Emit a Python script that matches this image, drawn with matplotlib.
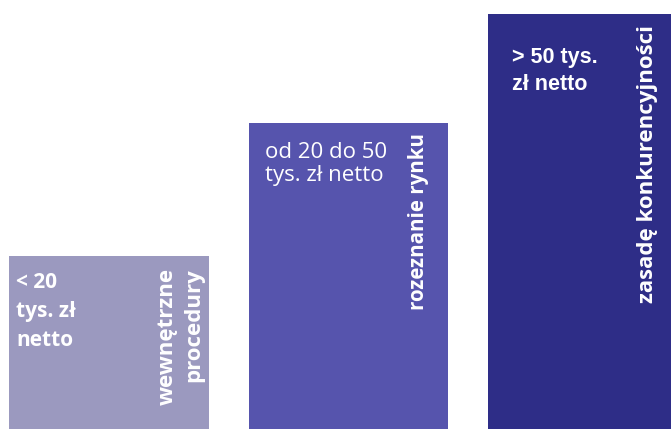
import matplotlib.pyplot as plt

# kategorie (progi wartości zamówienia) i wysokości słupków
labels = ['< 20\ntys. zł\nnetto', 'od 20 do 50\ntys. zł netto', '> 50 tys.\nzł netto']
procedures = ['wewnętrzne\nprocedury', 'rozeznanie rynku', 'zasadę konkurencyjności']
heights = [173, 306, 415]
colors = ['#9b99bf', '#5654ad', '#2e2d87']

x = [0, 1, 2]
width = 0.835

fig = plt.figure(figsize=(6.71, 4.29), dpi=100)
ax = fig.add_axes([0, 0, 1, 1])
bars = ax.bar(x, heights, width, color=colors)
ax.set_xlim(-0.4551, 2.3466)
ax.set_ylim(0, 429)
ax.axis('off')

# teksty poziome (lewy górny róg słupka)
label_styles = [
    dict(fontfamily='Open Sans', fontweight='bold', fontsize=15, linespacing=1.5, dx=0.03, dy=16),
    dict(fontfamily='Open Sans', fontweight='normal', fontsize=16, linespacing=1.15, dx=0.07, dy=19),
    dict(fontfamily='Liberation Sans', fontweight='bold', fontsize=15.5, linespacing=1.4, dx=0.1, dy=33),
]
for b, lab, st in zip(bars, labels, label_styles):
    ax.text(b.get_x() + st['dx'], b.get_height() - st['dy'], lab,
            color='white', fontsize=st['fontsize'], fontweight=st['fontweight'],
            fontfamily=st['fontfamily'], linespacing=st['linespacing'],
            ha='left', va='top')

# teksty pionowe (prawa strona słupka)
proc_styles = [
    dict(fontsize=16, dx=0.02, dy=12, linespacing=1.35),
    dict(fontsize=14.8, dx=0.08, dy=10, linespacing=1.0),
    dict(fontsize=16, dx=0.125, dy=11, linespacing=1.0),
]
for b, txt, st in zip(bars, procedures, proc_styles):
    ax.text(b.get_x() + b.get_width() - st['dx'], b.get_height() - st['dy'], txt,
            color='white', fontsize=st['fontsize'], fontweight='bold',
            fontfamily='Open Sans', rotation=90, linespacing=st['linespacing'],
            ha='right', va='top', multialignment='right')

fig.savefig('out.png', dpi=100)
